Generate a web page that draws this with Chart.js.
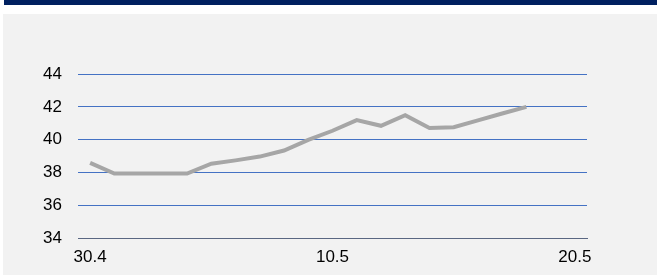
<!DOCTYPE html>
<html>
<head>
<meta charset="utf-8">
<script src="https://cdn.jsdelivr.net/npm/chart.js@4/dist/chart.umd.min.js"></script>
<style>
  html, body { margin: 0; padding: 0; background: #fff; }
  body { width: 657px; height: 275px; position: relative; overflow: hidden; }
  #bar { position: absolute; left: 4px; top: 0; width: 653px; height: 5px; background: #002060; }
  #panel { position: absolute; left: 3px; top: 14px; width: 654px; height: 261px; background: #f2f2f2; }
</style>
</head>
<body>
<div id="bar"></div>
<div id="panel"><canvas id="chart" width="654" height="261"></canvas></div>
<script>
// daily dates, 30.4 - 20.5
const days = ['30.4','1.5','2.5','3.5','4.5','5.5','6.5','7.5','8.5','9.5','10.5',
  '11.5','12.5','13.5','14.5','15.5','16.5','17.5','18.5','19.5','20.5'];
const shownLabels = ['30.4','10.5','20.5'];
const values = [38.6,37.95,37.95,37.95,37.95,38.55,38.75,38.98,39.35,40.0,40.55,
  41.2,40.85,41.5,40.72,40.76,41.18,41.6,42.0,null,null];
const yTicks = [34,36,38,40,42,44];

const font = { family: '"Liberation Sans", Arial, sans-serif', size: 17 };

new Chart(document.getElementById('chart'), {
  type: 'line',
  data: {
    labels: days,
    datasets: [{
      data: values,
      borderColor: '#a6a6a6',
      borderWidth: 4,
      pointRadius: 0,
      tension: 0,
      fill: false
    }]
  },
  options: {
    responsive: false,
    animation: false,
    layout: { padding: { left: 0, right: 70, top: 60, bottom: 0 } },
    plugins: { legend: { display: false }, tooltip: { enabled: false } },
    scales: {
      x: {
        offset: true,
        grid: { display: false, drawTicks: false },
        border: { color: '#5a6782', width: 1 },
        afterFit: s => { s.height = 36.5; },
        ticks: {
          autoSkip: false,
          maxRotation: 0,
          padding: 9,
          color: '#000',
          font: font,
          callback: function (v) {
            const l = this.getLabelForValue(v);
            return shownLabels.includes(l) ? l : '';
          }
        }
      },
      y: {
        min: yTicks[0],
        max: yTicks[yTicks.length - 1],
        grid: { color: '#4472c4', lineWidth: 1, drawTicks: false },
        border: { display: false },
        afterFit: s => { s.width = 75; },
        afterBuildTicks: s => { s.ticks = yTicks.map(v => ({ value: v })); },
        ticks: { padding: 16, color: '#000', font: font }
      }
    }
  }
});
</script>
</body>
</html>
